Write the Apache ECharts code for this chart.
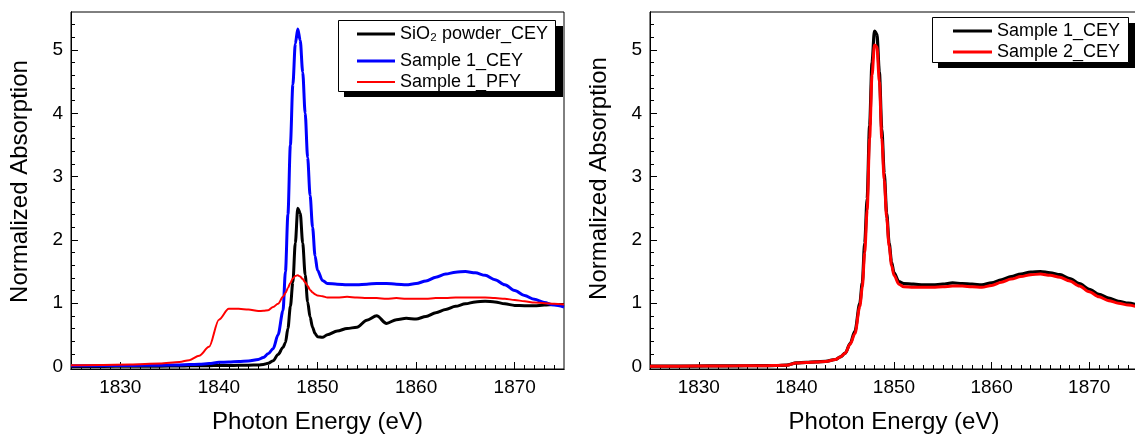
<!DOCTYPE html>
<html>
<head>
<meta charset="utf-8">
<script src="https://cdn.jsdelivr.net/npm/echarts@6/dist/echarts.min.js"></script>
<style>html,body{margin:0;padding:0;background:#fff}#c{width:1135px;height:434px}</style>
</head>
<body>
<div id="c"></div>
<script>
// Photon energy grid (eV), shared by all series
const energy = [1825,1828,1831,1834,1836,1837,1838,1839,1840,1841,1842,1843,1844,1844.5,1845,1845.5,1846,1846.5,1846.75,1847,1847.25,1847.5,1847.75,1848,1848.25,1848.5,1848.75,1849,1849.25,1849.5,1849.75,1850,1850.5,1851,1852,1853,1854,1855,1856,1857,1858,1859,1860,1861,1862,1863,1864,1865,1866,1867,1868,1869,1870,1871,1872,1873,1874,1875];

// Left panel
const sio2Cey = [0.00,0.00,0.005,0.005,0.008,0.01,0.01,0.012,0.015,0.015,0.018,0.02,0.025,0.032,0.05,0.09,0.19,0.30,0.38,0.60,0.95,1.33,1.95,2.50,2.42,1.95,1.45,1.02,0.78,0.62,0.52,0.47,0.46,0.50,0.56,0.60,0.62,0.73,0.80,0.68,0.74,0.76,0.75,0.79,0.85,0.90,0.95,0.99,1.02,1.03,1.02,0.99,0.965,0.96,0.96,0.97,0.98,0.98];
const sample1Cey = [0.01,0.012,0.015,0.02,0.025,0.03,0.035,0.045,0.065,0.072,0.078,0.085,0.11,0.14,0.20,0.28,0.50,0.88,1.50,2.40,3.50,4.45,5.10,5.33,5.15,4.65,4.00,3.30,2.70,2.20,1.75,1.52,1.36,1.31,1.30,1.29,1.29,1.30,1.31,1.31,1.30,1.29,1.31,1.35,1.41,1.46,1.49,1.50,1.48,1.44,1.37,1.29,1.20,1.12,1.06,1.01,0.97,0.94];
const sample1Pfy = [0.02,0.025,0.03,0.045,0.07,0.10,0.17,0.31,0.74,0.91,0.91,0.90,0.875,0.88,0.89,0.94,0.99,1.10,1.16,1.24,1.32,1.39,1.43,1.44,1.42,1.38,1.33,1.27,1.21,1.17,1.14,1.12,1.11,1.09,1.09,1.10,1.09,1.08,1.08,1.07,1.08,1.07,1.07,1.07,1.08,1.08,1.09,1.09,1.09,1.09,1.08,1.07,1.05,1.03,1.01,1.00,0.99,0.98];

// Right panel
const sample1CeyB = [0.005,0.005,0.008,0.01,0.012,0.013,0.015,0.022,0.058,0.066,0.072,0.082,0.11,0.15,0.21,0.36,0.56,1.00,1.32,1.95,2.65,3.80,4.80,5.30,5.25,4.65,3.75,3.05,2.42,1.95,1.65,1.48,1.34,1.31,1.30,1.29,1.29,1.30,1.32,1.31,1.30,1.29,1.32,1.37,1.42,1.46,1.49,1.50,1.48,1.45,1.39,1.31,1.22,1.14,1.08,1.03,1.00,0.97];
const sample2Cey = [0.005,0.005,0.008,0.01,0.012,0.013,0.015,0.02,0.055,0.064,0.07,0.08,0.11,0.15,0.21,0.35,0.52,0.95,1.25,1.80,2.47,3.60,4.60,5.08,5.05,4.50,3.60,2.95,2.35,1.90,1.60,1.44,1.30,1.26,1.25,1.25,1.25,1.26,1.27,1.27,1.26,1.25,1.28,1.33,1.38,1.42,1.45,1.46,1.44,1.41,1.35,1.27,1.18,1.10,1.04,1.00,0.97,0.94];

// Tick labels
const xTickLabels = [1830,1840,1850,1860,1870];
const yTickLabels = [0,1,2,3,4,5];

const xMinor = [];
for (let e = 1826; e <= 1874; e++) if (e % 10 !== 0) xMinor.push(e);
const yMinor = [];
for (let i = 1; i <= 27; i++) if (i % 5 !== 0) yMinor.push(Math.round(i * 2) / 10);

const FONT = '"Liberation Sans", Arial, Helvetica, sans-serif';
const pairs = ys => energy.map((e, i) => [e, ys[i]]);

function xAxes(g) {
  const base = {type:'value', gridIndex:g, min:1825, max:1875, position:'bottom', offset:0,
    splitLine:{show:false}, axisLine:{show:true, onZero:false, lineStyle:{color:'#000', width:1}}};
  return [
    Object.assign({}, base, {
      axisTick:{show:true, inside:true, length:7, customValues:xTickLabels, lineStyle:{color:'#000', width:1}},
      axisLabel:{show:true, customValues:xTickLabels, formatter:v => String(v), margin:9, fontSize:19, color:'#000', fontFamily:FONT},
      name:'Photon Energy (eV)', nameLocation:'middle', nameGap:41,
      nameTextStyle:{fontSize:24, color:'#000', fontFamily:FONT}
    }),
    Object.assign({}, base, {
      axisTick:{show:true, inside:true, length:4, customValues:xMinor, lineStyle:{color:'#000', width:1}},
      axisLabel:{show:false}
    })
  ];
}
function yAxes(g, pad) {
  const base = {type:'value', gridIndex:g, min:-0.04, max:5.6, position:'left', offset:0,
    splitLine:{show:false}, axisLine:{show:true, onZero:false, lineStyle:{color:'#000', width:1}}};
  return [
    Object.assign({}, base, {
      axisTick:{show:true, inside:true, length:7, customValues:yTickLabels, lineStyle:{color:'#000', width:1}},
      axisLabel:{show:true, customValues:yTickLabels, formatter:v => String(v), margin:8, fontSize:19, color:'#000', fontFamily:FONT},
      name:'Normalized Absorption', nameLocation:'middle', nameGap:39,
      nameTextStyle:{fontSize:24, color:'#000', fontFamily:FONT, padding:[0,0,0,pad]}
    }),
    Object.assign({}, base, {
      axisTick:{show:true, inside:true, length:4, customValues:yMinor, lineStyle:{color:'#000', width:1}},
      axisLabel:{show:false}
    })
  ];
}

function line(name, xi, yi, data, color, width) {
  return {type:'line', name, xAxisIndex:xi, yAxisIndex:yi, data:pairs(data), symbol:'none',
    smooth:0.3, smoothMonotone:'x', lineStyle:{color, width}, itemStyle:{color}, emphasis:{disabled:true}};
}

const legendText = {fontSize:18, color:'#000', fontFamily:FONT};
function leg(name, left, top, color, h, w) {
  return {data:[{name, itemStyle:{color}}], left, top, orient:'vertical', icon:'rect', itemWidth:w, itemHeight:h,
    padding:0, z:10, textStyle:legendText};
}

const chart = echarts.init(document.getElementById('c'));
chart.setOption({
  animation:false,
  backgroundColor:'#fff',
  grid:[
    {left:71, right:571, top:12, bottom:65, show:true, borderColor:'#000', borderWidth:1, backgroundColor:'transparent', outerBoundsMode:'none'},
    {left:650, right:-3, top:12, bottom:65, show:true, borderColor:'#000', borderWidth:1, backgroundColor:'transparent', outerBoundsMode:'none'}
  ],
  xAxis:[...xAxes(0), ...xAxes(1)],
  yAxis:[...yAxes(0, 18), ...yAxes(1, 24)],
  legend:[
    leg('SiO₂ powder_CEY', 357, 25, '#000', 3, 38),
    leg('Sample 1_CEY', 357, 52, '#0000ff', 3, 38),
    leg('Sample 1_PFY', 357, 73, '#ff0000', 2, 38),
    leg('Sample 1_CEY', 953, 22, '#000', 3, 39),
    leg('Sample 2_CEY', 953, 43, '#ff0000', 3, 39)
  ],
  graphic:[
    {type:'rect', z:5, shape:{x:344, y:26, width:219, height:71}, style:{fill:'#000'}},
    {type:'rect', z:6, shape:{x:338.5, y:20.5, width:217, height:71}, style:{fill:'#fff', stroke:'#000', lineWidth:1}},
    {type:'rect', z:5, shape:{x:938, y:23, width:197, height:45}, style:{fill:'#000'}},
    {type:'rect', z:6, shape:{x:932.5, y:17.5, width:196, height:45}, style:{fill:'#fff', stroke:'#000', lineWidth:1}}
  ],
  series:[
    line('SiO₂ powder_CEY', 0, 0, sio2Cey, '#000', 3),
    line('Sample 1_CEY', 0, 0, sample1Cey, '#0000ff', 3),
    line('Sample 1_PFY', 0, 0, sample1Pfy, '#ff0000', 2),
    line('Sample 1_CEY', 2, 2, sample1CeyB, '#000', 3.2),
    line('Sample 2_CEY', 2, 2, sample2Cey, '#ff0000', 3)
  ]
});
</script>
</body>
</html>
